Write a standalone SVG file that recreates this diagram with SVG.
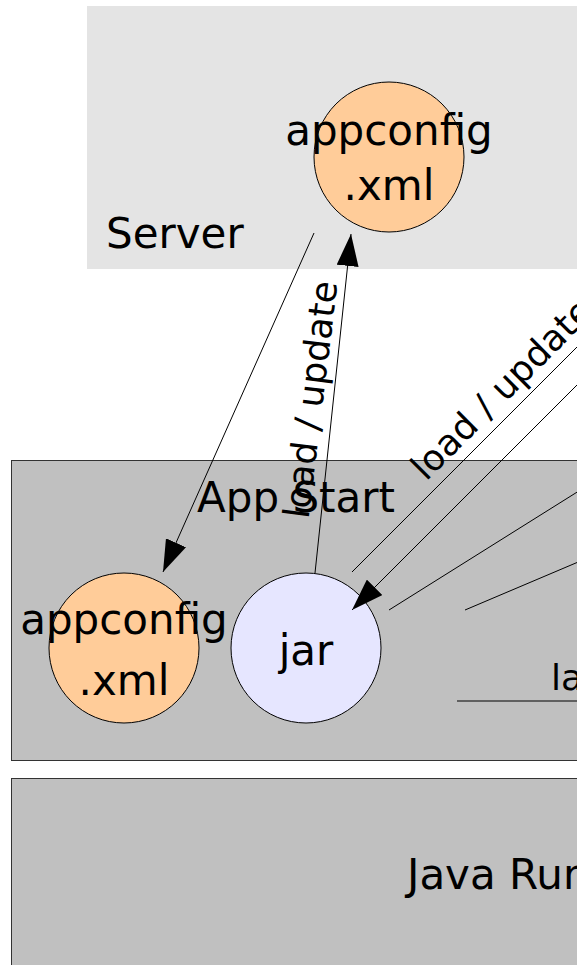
<svg xmlns="http://www.w3.org/2000/svg" width="577" height="965" viewBox="0 0 577 965">
<style>
text{font-family:"DejaVu Sans",sans-serif;fill:#000}
.big{font-size:42px}
.lbl{font-size:36px}
.c{stroke:#000;stroke-width:1;fill:none}
.orange{fill:#ffcc99;stroke:#000;stroke-width:1}
.blue{fill:#e6e6ff;stroke:#000;stroke-width:1}
.box{fill:#c0c0c0;stroke:#333;stroke-width:1}
</style>
<defs>
<marker id="ah" viewBox="0 0 32 22" refX="32" refY="11" markerWidth="32" markerHeight="22" markerUnits="userSpaceOnUse" orient="auto">
<path d="M0,0 L32,11 L0,22 Z" fill="#000"/>
</marker>
</defs>
<g id="server">
<rect x="87" y="6" width="500" height="263" fill="#e4e4e4"/>
<text class="big" x="106" y="248">Server</text>
</g>
<g id="appstart">
<rect class="box" x="11.5" y="460.5" width="580" height="300"/>
<text class="big" x="197" y="512">App Start</text>
</g>
<g id="javaruntime">
<rect class="box" x="11.5" y="778.5" width="580" height="200"/>
<text class="big" x="407" y="889">Java Runtime</text>
</g>
<g id="server-appconfig">
<circle class="orange" cx="389" cy="157" r="75"/>
<text class="big" x="389" y="145" text-anchor="middle">appconfig</text>
<text class="big" x="389" y="200" text-anchor="middle">.xml</text>
</g>
<g id="local-appconfig">
<circle class="orange" cx="124" cy="648" r="75"/>
<text class="big" x="124" y="634" text-anchor="middle">appconfig</text>
<text class="big" x="124" y="695" text-anchor="middle">.xml</text>
</g>
<g id="jar">
<circle class="blue" cx="306" cy="648" r="75"/>
<text class="big" x="306" y="665" text-anchor="middle">jar</text>
</g>
<g id="connectors">
<line class="c" x1="314" y1="233" x2="163" y2="572" marker-end="url(#ah)"/>
<line class="c" x1="315" y1="573" x2="351" y2="234" marker-end="url(#ah)"/>
<line class="c" x1="352" y1="572" x2="590" y2="334"/>
<line class="c" x1="590" y1="372" x2="352" y2="610" marker-end="url(#ah)"/>
<line class="c" x1="389" y1="610" x2="590" y2="484"/>
<line class="c" x1="465" y1="610" x2="590" y2="557"/>
<line class="c" x1="457" y1="701" x2="590" y2="701"/>
<text class="lbl" transform="translate(323,401) rotate(-83)" text-anchor="middle">load / update</text>
<text class="lbl" transform="translate(426,482) rotate(-45)">load / update</text>
<text class="lbl" x="551" y="690">la</text>
</g>
</svg>
